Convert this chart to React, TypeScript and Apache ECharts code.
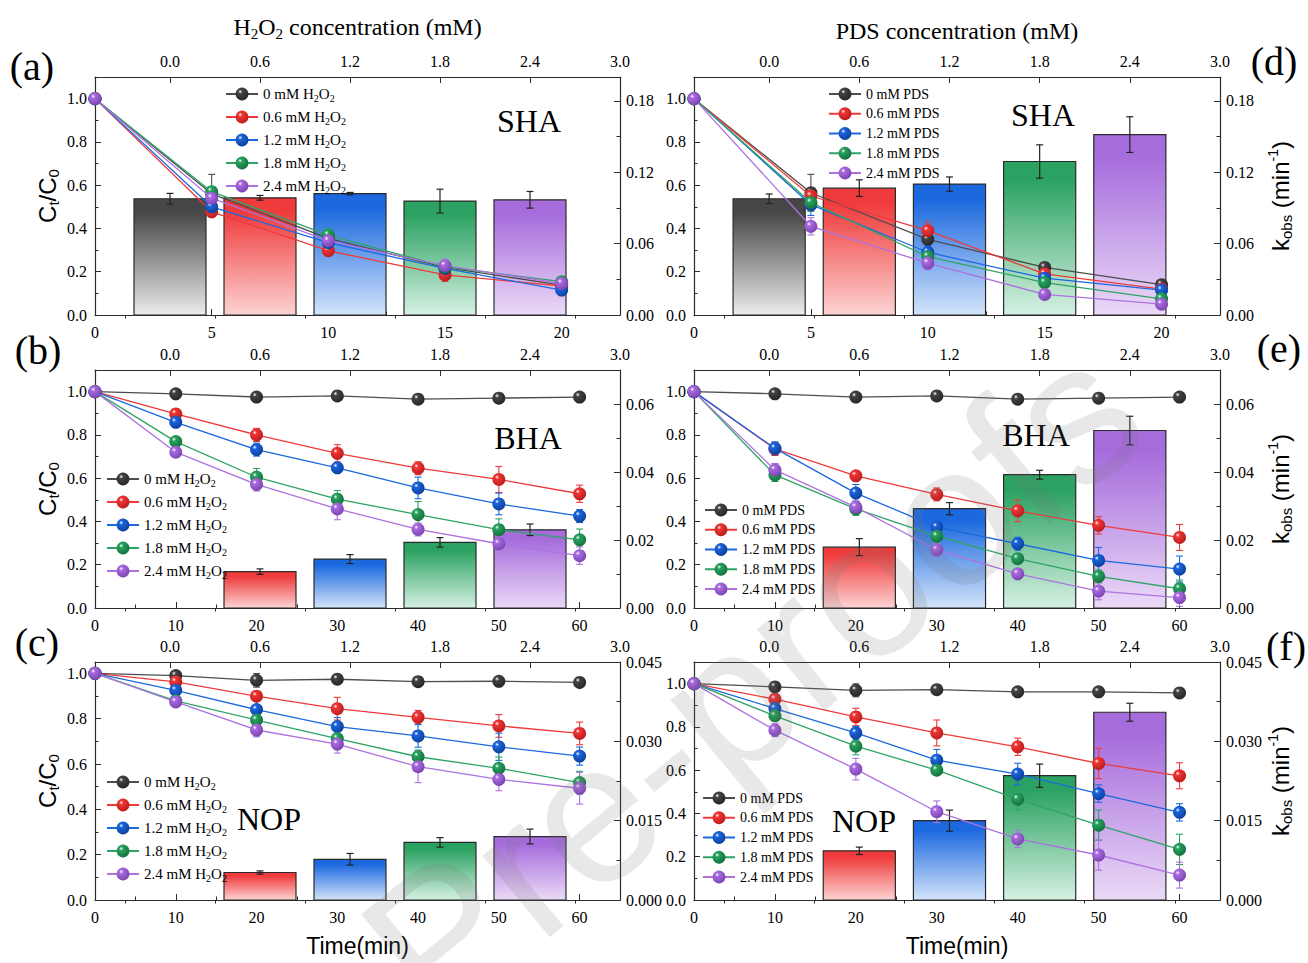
import React, { useEffect, useRef } from 'react';
import * as echarts from 'echarts';

// ---------------- data ----------------
const TIME_SHA = [0, 5, 10, 15, 20];
const TIME_LONG = [0, 10, 20, 30, 40, 50, 60];
const DOSE_FIVE = [0, 0.6, 1.2, 1.8, 2.4];
const DOSE_FOUR = [0.6, 1.2, 1.8, 2.4];
const DOSE_TICKS = [0, 0.6, 1.2, 1.8, 2.4, 3.0];
const DOSE_MINOR_TICKS = [-0.3, 0.3, 0.9, 1.5, 2.1, 2.7];
const H2O2_NAMES = ['0 mM H2O2', '0.6 mM H2O2', '1.2 mM H2O2', '1.8 mM H2O2', '2.4 mM H2O2'];
const PDS_NAMES = ['0 mM PDS', '0.6 mM PDS', '1.2 mM PDS', '1.8 mM PDS', '2.4 mM PDS'];

// (a) SHA, H2O2
const A_CT = [
  [1.0, 0.56, 0.354, 0.22, 0.138],
  [1.0, 0.477, 0.297, 0.185, 0.134],
  [1.0, 0.50, 0.334, 0.215, 0.115],
  [1.0, 0.57, 0.369, 0.223, 0.154],
  [1.0, 0.54, 0.343, 0.228, 0.146],
];
const A_ERR = [
  [0, 0.09, 0.02, 0.02, 0.02],
  [0, 0.02, 0.02, 0.03, 0.02],
  [0, 0.03, 0.02, 0.02, 0.02],
  [0, 0.02, 0.03, 0.02, 0.02],
  [0, 0.03, 0.03, 0.03, 0.02],
];
const A_K = [0.0977, 0.0985, 0.102, 0.0957, 0.0968];
const A_KERR = [0.0045, 0.002, 0.001, 0.01, 0.007];

// (b) BHA, H2O2
const B_CT = [
  [1.0, 0.99, 0.975, 0.98, 0.965, 0.97, 0.975],
  [1.0, 0.897, 0.80, 0.715, 0.646, 0.594, 0.528],
  [1.0, 0.858, 0.732, 0.648, 0.555, 0.481, 0.425],
  [1.0, 0.769, 0.605, 0.503, 0.432, 0.362, 0.315],
  [1.0, 0.72, 0.571, 0.458, 0.363, 0.297, 0.242],
];
const B_ERR = [
  [0, 0.01, 0.01, 0.01, 0.01, 0.01, 0.01],
  [0, 0.01, 0.03, 0.04, 0.03, 0.06, 0.04],
  [0, 0.02, 0.03, 0.02, 0.05, 0.05, 0.03],
  [0, 0.01, 0.04, 0.04, 0.06, 0.05, 0.05],
  [0, 0.02, 0.03, 0.05, 0.03, 0.03, 0.04],
];
const B_K = [0.0107, 0.0144, 0.0193, 0.023];
const B_KERR = [0.0008, 0.0013, 0.0014, 0.0017];

// (c) NOP, H2O2
const C_CT = [
  [1.0, 0.99, 0.969, 0.974, 0.963, 0.965, 0.96],
  [1.0, 0.962, 0.899, 0.844, 0.806, 0.768, 0.735],
  [1.0, 0.925, 0.84, 0.765, 0.724, 0.676, 0.635],
  [1.0, 0.879, 0.794, 0.712, 0.632, 0.581, 0.518],
  [1.0, 0.874, 0.75, 0.688, 0.588, 0.532, 0.493],
];
const C_ERR = [
  [0, 0.01, 0.03, 0.02, 0.01, 0.02, 0.01],
  [0, 0.02, 0.02, 0.05, 0.03, 0.05, 0.05],
  [0, 0.02, 0.04, 0.04, 0.05, 0.06, 0.04],
  [0, 0.02, 0.02, 0.02, 0.03, 0.05, 0.05],
  [0, 0.02, 0.03, 0.04, 0.07, 0.05, 0.07],
];
const C_K = [0.0052, 0.0077, 0.0109, 0.012];
const C_KERR = [0.0003, 0.0011, 0.0009, 0.0014];

// (d) SHA, PDS
const D_CT = [
  [1.0, 0.565, 0.35, 0.22, 0.14],
  [1.0, 0.55, 0.39, 0.19, 0.12],
  [1.0, 0.51, 0.29, 0.17, 0.115],
  [1.0, 0.52, 0.27, 0.15, 0.075],
  [1.0, 0.41, 0.24, 0.095, 0.05],
];
const D_ERR = [
  [0, 0.085, 0.02, 0.01, 0.01],
  [0, 0.03, 0.04, 0.02, 0.02],
  [0, 0.05, 0.03, 0.02, 0.02],
  [0, 0.04, 0.03, 0.02, 0.02],
  [0, 0.04, 0.03, 0.02, 0.02],
];
const D_K = [0.0977, 0.1066, 0.110, 0.129, 0.1516];
const D_KERR = [0.004, 0.007, 0.006, 0.014, 0.015];

// (e) BHA, PDS
const E_CT = [
  [1.0, 0.99, 0.975, 0.98, 0.965, 0.97, 0.975],
  [1.0, 0.735, 0.611, 0.525, 0.449, 0.382, 0.326],
  [1.0, 0.738, 0.531, 0.374, 0.297, 0.22, 0.18],
  [1.0, 0.615, 0.458, 0.332, 0.228, 0.146, 0.089],
  [1.0, 0.638, 0.466, 0.269, 0.158, 0.078, 0.048],
];
const E_ERR = [
  [0, 0.01, 0.01, 0.01, 0.01, 0.01, 0.01],
  [0, 0.03, 0.02, 0.03, 0.05, 0.04, 0.06],
  [0, 0.03, 0.04, 0.03, 0.03, 0.06, 0.06],
  [0, 0.03, 0.03, 0.03, 0.02, 0.03, 0.04],
  [0, 0.03, 0.03, 0.03, 0.02, 0.04, 0.04],
];
const E_K = [0.0179, 0.0292, 0.0392, 0.0522];
const E_KERR = [0.0025, 0.0018, 0.0013, 0.0042];

// (f) NOP, PDS
const F_CT = [
  [1.0, 0.985, 0.969, 0.972, 0.962, 0.962, 0.957],
  [1.0, 0.928, 0.846, 0.772, 0.708, 0.631, 0.574],
  [1.0, 0.885, 0.772, 0.646, 0.582, 0.492, 0.405],
  [1.0, 0.851, 0.711, 0.60, 0.466, 0.346, 0.234],
  [1.0, 0.785, 0.605, 0.408, 0.282, 0.208, 0.115],
];
const F_ERR = [
  [0, 0.01, 0.03, 0.02, 0.01, 0.02, 0.01],
  [0, 0.02, 0.04, 0.06, 0.04, 0.07, 0.06],
  [0, 0.02, 0.03, 0.05, 0.05, 0.04, 0.04],
  [0, 0.02, 0.04, 0.02, 0.05, 0.07, 0.07],
  [0, 0.03, 0.05, 0.05, 0.04, 0.07, 0.06],
];
const F_K = [0.0093, 0.015, 0.0235, 0.0355];
const F_KERR = [0.0007, 0.002, 0.0022, 0.0017];

// ---------------- styles ----------------
const SERIF = "'Liberation Serif', 'Times New Roman', serif";
const SANS = "'Liberation Sans', Arial, sans-serif";
const AXIS_COLOR = '#2b2b2b';
const LINE_COLORS = ['#4d4d4d', '#ef3a3a', '#1b69df', '#2ea464', '#ad72e0'];
const BALL_COLORS = ['#434343', '#f03434', '#1a64dc', '#27a15e', '#a86ade'];
const BALL_DARK = ['#262626', '#b81d1d', '#0d3f9a', '#13703c', '#7a43b0'];
const BAR_TOP = ['#474747', '#ef3b3b', '#1c69df', '#2ca262', '#a66cdc'];
const BAR_BOTTOM = ['#ececec', '#fdd3d3', '#d3e4fa', '#d6f1e3', '#ebdaf7'];
const BAR_HALF = 0.24;

const PANELS = [
  { left: 95, top: 77, width: 525, times: TIME_SHA, xMax: 22.5, xInterval: 5, yMax: 1.1, kMax: 0.2, kInterval: 0.06, kDec: 2,
    ct: A_CT, err: A_ERR, doses: DOSE_FIVE, k: A_K, kErr: A_KERR, names: H2O2_NAMES, side: 'left',
    topName: 'H{s|2}O{s|2} concentration (mM)', topGap: 36, timeName: false,
    legend: { left: 225, top: 85, lh: 18, gap: 5, fs: 15 }, letter: { t: '(a)', x: 32, y: 66 }, note: { t: 'SHA', x: 529, y: 121 } },
  { left: 95, top: 370, width: 525, times: TIME_LONG, xMax: 65, xInterval: 10, yMax: 1.1, kMax: 0.07, kInterval: 0.02, kDec: 2,
    ct: B_CT, err: B_ERR, doses: DOSE_FOUR, k: B_K, kErr: B_KERR, names: H2O2_NAMES, side: 'left',
    topName: '', topGap: 36, timeName: false,
    legend: { left: 106, top: 470, lh: 18, gap: 5, fs: 15 }, letter: { t: '(b)', x: 38, y: 350 }, note: { t: 'BHA', x: 528, y: 438 } },
  { left: 95, top: 662, width: 525, times: TIME_LONG, xMax: 65, xInterval: 10, yMax: 1.05, kMax: 0.045, kInterval: 0.015, kDec: 3,
    ct: C_CT, err: C_ERR, doses: DOSE_FOUR, k: C_K, kErr: C_KERR, names: H2O2_NAMES, side: 'left',
    topName: '', topGap: 36, timeName: true,
    legend: { left: 106, top: 773, lh: 18, gap: 5, fs: 15 }, letter: { t: '(c)', x: 37, y: 642 }, note: { t: 'NOP', x: 269, y: 819 } },
  { left: 694, top: 77, width: 526, times: TIME_SHA, xMax: 22.5, xInterval: 5, yMax: 1.1, kMax: 0.2, kInterval: 0.06, kDec: 2,
    ct: D_CT, err: D_ERR, doses: DOSE_FIVE, k: D_K, kErr: D_KERR, names: PDS_NAMES, side: 'right',
    topName: 'PDS concentration (mM)', topGap: 32, timeName: false,
    legend: { left: 828, top: 86, lh: 16, gap: 3.75, fs: 14 }, letter: { t: '(d)', x: 1274, y: 61 }, note: { t: 'SHA', x: 1043, y: 115 } },
  { left: 694, top: 370, width: 526, times: TIME_LONG, xMax: 65, xInterval: 10, yMax: 1.1, kMax: 0.07, kInterval: 0.02, kDec: 2,
    ct: E_CT, err: E_ERR, doses: DOSE_FOUR, k: E_K, kErr: E_KERR, names: PDS_NAMES, side: 'right',
    topName: '', topGap: 32, timeName: false,
    legend: { left: 704, top: 502, lh: 16, gap: 3.75, fs: 14 }, letter: { t: '(e)', x: 1279, y: 348 }, note: { t: 'BHA', x: 1036, y: 435 } },
  { left: 694, top: 662, width: 526, times: TIME_LONG, xMax: 65, xInterval: 10, yMax: 1.1, kMax: 0.045, kInterval: 0.015, kDec: 3,
    ct: F_CT, err: F_ERR, doses: DOSE_FOUR, k: F_K, kErr: F_KERR, names: PDS_NAMES, side: 'right',
    topName: '', topGap: 32, timeName: true,
    legend: { left: 702, top: 790, lh: 16, gap: 3.75, fs: 14 }, letter: { t: '(f)', x: 1286, y: 646 }, note: { t: 'NOP', x: 864, y: 821 } },
];

function ball(i: number) {
  return new echarts.graphic.RadialGradient(0.36, 0.32, 0.72, [
    { offset: 0, color: '#ffffff' },
    { offset: 0.22, color: BALL_COLORS[i] },
    { offset: 1, color: BALL_DARK[i] },
  ]);
}

function onTick(v: number, step: number) {
  const r = v / step;
  return Math.abs(r - Math.round(r)) < 1e-6;
}

function subName(name: string) {
  return name.replace('H2O2', 'H{s|2}O{s|2}');
}

function buildOption() {
  const grid: any[] = [];
  const xAxis: any[] = [];
  const yAxis: any[] = [];
  const series: any[] = [];
  const legend: any[] = [];
  const graphic: any[] = [];
  const tickLabel = { fontFamily: SERIF, fontSize: 16, color: '#000' };
  const lineStyle = { color: AXIS_COLOR, width: 1.2 };
  const tickStyle = { color: AXIS_COLOR, width: 1 };

  PANELS.forEach((p, i) => {
    grid.push({ left: p.left, top: p.top, width: p.width, height: 238, containLabel: false, outerBoundsMode: 'none' });

    const xb = xAxis.length;
    xAxis.push({
      type: 'value', gridIndex: i, position: 'bottom', min: 0, max: p.xMax, interval: p.xInterval,
      axisLine: { show: true, onZero: false, lineStyle },
      axisTick: { show: true, inside: true, length: 6, lineStyle: tickStyle },
      minorTick: { show: true, splitNumber: 2, length: 3.5, lineStyle: tickStyle },
      splitLine: { show: false }, minorSplitLine: { show: false },
      axisLabel: { ...tickLabel, margin: 9, formatter: (v: number) => (onTick(v, p.xInterval) ? String(Math.round(v)) : '') },
      name: p.timeName ? 'Time(min)' : '', nameLocation: 'middle', nameGap: 32, nameMoveOverlap: false,
      nameTextStyle: { fontFamily: SANS, fontSize: 23, color: '#000', lineHeight: 28 },
    });
    const xt = xAxis.length;
    xAxis.push({
      type: 'value', gridIndex: i, position: 'top', min: -0.5, max: 3.0,
      axisLine: { show: true, onZero: false, lineStyle },
      axisTick: { show: true, inside: true, length: 6, customValues: DOSE_TICKS, lineStyle: tickStyle },
      axisLabel: { ...tickLabel, margin: 8, customValues: DOSE_TICKS, formatter: (v: number) => v.toFixed(1) },
      splitLine: { show: false },
      name: p.topName, nameLocation: 'middle', nameGap: p.topGap, nameMoveOverlap: false,
      nameTextStyle: {
        fontFamily: SERIF, fontSize: 24, color: '#000', lineHeight: 28,
        rich: { s: { fontFamily: SERIF, fontSize: 15, lineHeight: 16, verticalAlign: 'bottom', color: '#000' } },
      },
    });
    xAxis.push({
      type: 'value', gridIndex: i, position: 'top', min: -0.5, max: 3.0,
      axisLine: { show: false },
      axisTick: { show: true, inside: true, length: 3.5, customValues: DOSE_MINOR_TICKS, lineStyle: tickStyle },
      axisLabel: { show: false, customValues: DOSE_MINOR_TICKS },
      splitLine: { show: false },
    });

    const yl = yAxis.length;
    yAxis.push({
      type: 'value', gridIndex: i, position: 'left', min: 0, max: p.yMax, interval: 0.2,
      axisLine: { show: true, onZero: false, lineStyle },
      axisTick: { show: true, inside: true, length: 6, lineStyle: tickStyle },
      minorTick: { show: true, splitNumber: 2, length: 3.5, lineStyle: tickStyle },
      splitLine: { show: false }, minorSplitLine: { show: false },
      axisLabel: { ...tickLabel, margin: 8, formatter: (v: number) => (onTick(v, 0.2) ? v.toFixed(1) : '') },
      name: p.side === 'left' ? 'C{s|t}/C{s|0}' : '', nameLocation: 'middle', nameGap: 34, nameMoveOverlap: false,
      nameTextStyle: {
        fontFamily: SANS, fontSize: 24, color: '#000', lineHeight: 28,
        rich: { s: { fontFamily: SANS, fontSize: 15, lineHeight: 16, verticalAlign: 'bottom', color: '#000' } },
      },
    });
    const yr = yAxis.length;
    yAxis.push({
      type: 'value', gridIndex: i, position: 'right', min: 0, max: p.kMax, interval: p.kInterval,
      axisLine: { show: true, onZero: false, lineStyle },
      axisTick: { show: true, inside: true, length: 6, lineStyle: tickStyle },
      minorTick: { show: true, splitNumber: 2, length: 3.5, lineStyle: tickStyle },
      splitLine: { show: false }, minorSplitLine: { show: false },
      axisLabel: { ...tickLabel, margin: 6, formatter: (v: number) => (onTick(v, p.kInterval) ? v.toFixed(p.kDec) : '') },
      name: p.side === 'right' ? 'k{s|obs} (min{p|-1})' : '', nameLocation: 'middle', nameGap: 46, nameMoveOverlap: false,
      nameTextStyle: {
        fontFamily: SANS, fontSize: 24, color: '#000', lineHeight: 28,
        rich: {
          s: { fontFamily: SANS, fontSize: 15, lineHeight: 16, verticalAlign: 'bottom', color: '#000' },
          p: { fontFamily: SANS, fontSize: 14, lineHeight: 14, verticalAlign: 'top', color: '#000' },
        },
      },
    });

    // bars (kobs vs dose)
    series.push({
      type: 'custom', xAxisIndex: xt, yAxisIndex: yr, z: 1, silent: true,
      data: p.doses.map((d, j) => [d, p.k[j]]),
      encode: { x: 0, y: 1 },
      renderItem: (params: any, api: any) => {
        const d = api.value(0);
        const kv = api.value(1);
        const ci = Math.round(d / 0.6);
        const p1 = api.coord([d - BAR_HALF, kv]);
        const p2 = api.coord([d + BAR_HALF, 0]);
        return {
          type: 'rect',
          shape: { x: p1[0], y: p1[1], width: p2[0] - p1[0], height: p2[1] - p1[1] },
          style: {
            fill: new echarts.graphic.LinearGradient(0, 0, 0, 1, [
              { offset: 0, color: BAR_TOP[ci] },
              { offset: 0.12, color: BAR_TOP[ci] },
              { offset: 1, color: BAR_BOTTOM[ci] },
            ]),
            stroke: '#2a2a2a', lineWidth: 1.2,
          },
        };
      },
    });
    series.push({
      type: 'custom', xAxisIndex: xt, yAxisIndex: yr, z: 2, silent: true,
      data: p.doses.map((d, j) => [d, p.k[j] - p.kErr[j], p.k[j] + p.kErr[j]]),
      encode: { x: 0, y: [1, 2] },
      renderItem: (params: any, api: any) => {
        const d = api.value(0);
        const lo = api.coord([d, api.value(1)]);
        const hi = api.coord([d, api.value(2)]);
        const w = 3.5;
        const st = { stroke: '#222', lineWidth: 1.2 };
        return {
          type: 'group', children: [
            { type: 'line', shape: { x1: lo[0], y1: lo[1], x2: hi[0], y2: hi[1] }, style: st },
            { type: 'line', shape: { x1: lo[0] - w, y1: lo[1], x2: lo[0] + w, y2: lo[1] }, style: st },
            { type: 'line', shape: { x1: hi[0] - w, y1: hi[1], x2: hi[0] + w, y2: hi[1] }, style: st },
          ],
        };
      },
    });

    // line error bars
    p.ct.forEach((vals, j) => {
      series.push({
        type: 'custom', xAxisIndex: xb, yAxisIndex: yl, z: 4, silent: true,
        data: p.times.map((t, k) => [t, vals[k] - p.err[j][k], vals[k] + p.err[j][k]]).filter((_, k) => p.err[j][k] > 0),
        encode: { x: 0, y: [1, 2] },
        renderItem: (params: any, api: any) => {
          const t = api.value(0);
          const lo = api.coord([t, api.value(1)]);
          const hi = api.coord([t, api.value(2)]);
          const w = 3.5;
          const st = { stroke: LINE_COLORS[j], lineWidth: 1.1 };
          return {
            type: 'group', children: [
              { type: 'line', shape: { x1: lo[0], y1: lo[1], x2: hi[0], y2: hi[1] }, style: st },
              { type: 'line', shape: { x1: lo[0] - w, y1: lo[1], x2: lo[0] + w, y2: lo[1] }, style: st },
              { type: 'line', shape: { x1: hi[0] - w, y1: hi[1], x2: hi[0] + w, y2: hi[1] }, style: st },
            ],
          };
        },
      });
    });

    // lines
    p.ct.forEach((vals, j) => {
      series.push({
        type: 'line', name: p.names[j], xAxisIndex: xb, yAxisIndex: yl, z: 10 + j,
        data: p.times.map((t, k) => [t, vals[k]]),
        symbol: 'circle', symbolSize: 13, showSymbol: true,
        lineStyle: { color: LINE_COLORS[j], width: 1.3 },
        itemStyle: { color: ball(j) },
        emphasis: { disabled: true },
      });
    });

    legend.push({
      orient: 'vertical', left: p.legend.left, top: p.legend.top, itemGap: p.legend.gap, padding: 0,
      itemWidth: 32, itemHeight: 16, selectedMode: false,
      data: p.names, formatter: subName,
      textStyle: {
        fontFamily: SERIF, fontSize: p.legend.fs, color: '#000', lineHeight: p.legend.lh,
        rich: { s: { fontFamily: SERIF, fontSize: 10, lineHeight: 10, verticalAlign: 'bottom', color: '#000' } },
      },
    });

    graphic.push({
      type: 'text', x: p.letter.x, y: p.letter.y, silent: true,
      style: { text: p.letter.t, fontFamily: SERIF, fontSize: 40, fill: '#000', align: 'center', verticalAlign: 'middle' },
    });
    graphic.push({
      type: 'text', x: p.note.x, y: p.note.y, silent: true, z: 50,
      style: { text: p.note.t, fontFamily: SERIF, fontSize: 32, fill: '#000', align: 'center', verticalAlign: 'middle' },
    });
  });

  graphic.push({
    type: 'text', x: 752, y: 680, rotation: 0.69, silent: true, z: 100,
    style: {
      text: 'Pre-proofs', fontFamily: SANS, fontSize: 200, fill: 'rgba(120,120,120,0.17)',
      align: 'center', verticalAlign: 'middle',
    },
  });

  return {
    animation: false,
    backgroundColor: '#ffffff',
    grid, xAxis, yAxis, series, legend, graphic,
  };
}

export default function App() {
  const ref = useRef<HTMLDivElement>(null);
  useEffect(() => {
    if (!ref.current) return;
    const chart = echarts.init(ref.current, null, { renderer: 'svg' });
    chart.setOption(buildOption() as any);
    return () => chart.dispose();
  }, []);
  return (
    <div
      ref={ref}
      style={{ position: 'fixed', left: 0, top: 0, width: 1308, height: 963, background: '#fff' }}
    />
  );
}
